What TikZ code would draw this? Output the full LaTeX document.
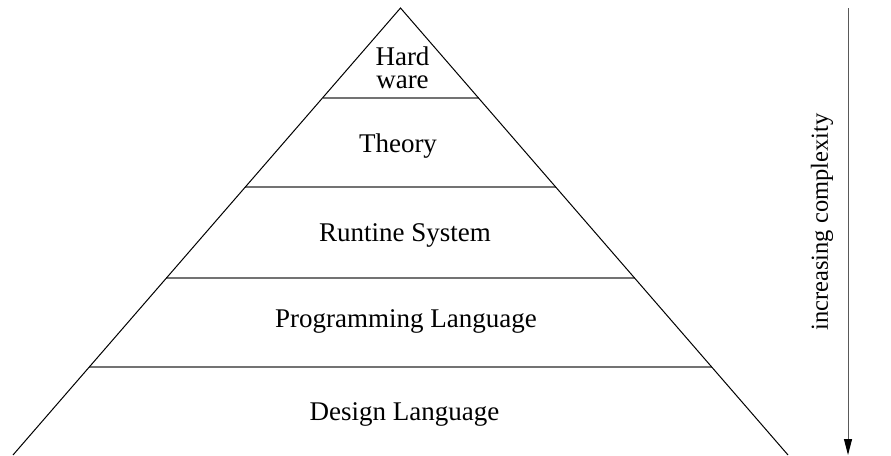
\documentclass[tikz,border=0pt]{standalone}
\usepackage{fontspec}
\setmainfont{Liberation Serif}
\usetikzlibrary{calc,arrows.meta}
\tikzset{
  lbl/.style={font=\fontsize{27}{30}\selectfont, anchor=base, inner sep=0pt},
  side/.style={line width=1pt, black},
  layer/.style={line width=1.6pt, black!55},
}
\begin{document}
\begin{tikzpicture}[x=1pt,y=-1pt]
\useasboundingbox (0,0) rectangle (891,455);
\coordinate (apex) at (400.5,8);
\coordinate (bl) at (13,455);
\coordinate (br) at (788,455);
\foreach \f/\n in {0.2013/a,0.4004/b,0.604/c,0.8031/d}{
  \coordinate (l\n) at ($(apex)!\f!(bl)$);
  \coordinate (r\n) at ($(apex)!\f!(br)$);
  \draw[layer] (l\n) -- (r\n);
}
\draw[side] (bl) -- (apex) -- (br);
\node[font=\fontsize{27}{23}\selectfont, align=center, anchor=north, inner sep=0pt] (hard) at (402.5,46.6) {Hard\\ware};
\node[lbl] (theory) at (398,152) {Theory};
\node[lbl] (runtime) at (405,241) {Runtine System};
\node[lbl] (prog) at (406,327) {Programming Language};
\node[lbl] (design) at (404.5,420) {Design Language};
\coordinate (atop) at (848,8);
\coordinate (abot) at (848,455);
\draw[line width=1pt, black!65, -{Triangle[length=16pt,width=8pt,color=black]}] (atop) -- (abot);
\node[font=\fontsize{24.5}{28}\selectfont, rotate=90, inner sep=0pt] (cx) at (822,222) {increasing complexity};
\end{tikzpicture}
\end{document}
